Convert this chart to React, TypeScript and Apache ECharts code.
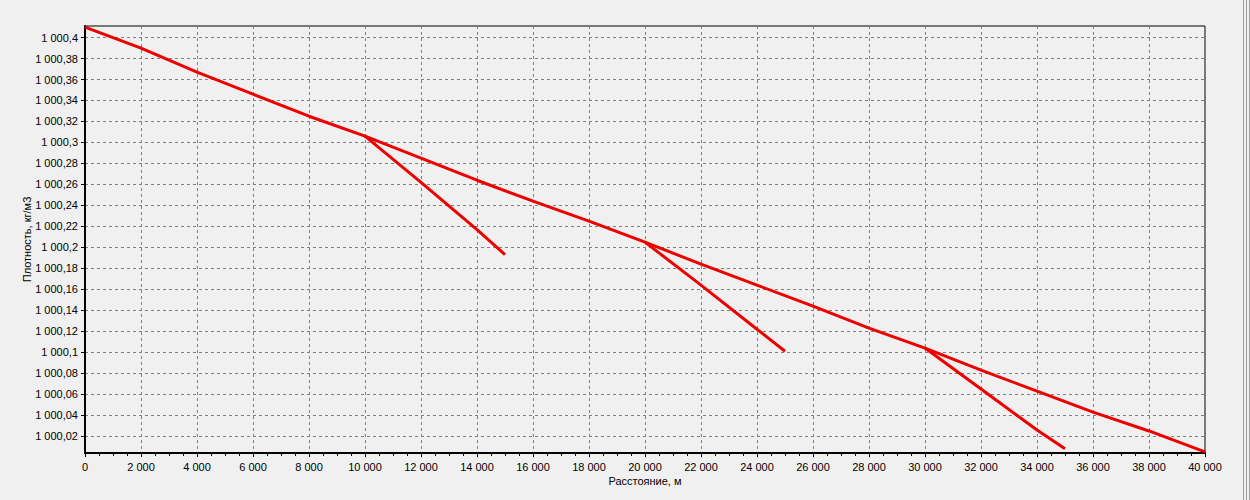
import React, { useEffect, useRef } from "react";
import * as echarts from "echarts";

// Main line (distance, m / density, kg/m3)
const mainDistance = [0, 2000, 4000, 6000, 8000, 10000, 12000, 14000, 16000, 18000, 20000, 22000, 24000, 26000, 28000, 30000, 32000, 34000, 36000, 38000, 40000];
const mainDensity = [1000.41, 1000.39, 1000.367, 1000.346, 1000.325, 1000.306, 1000.285, 1000.264, 1000.244, 1000.225, 1000.205, 1000.184, 1000.164, 1000.144, 1000.123, 1000.104, 1000.083, 1000.063, 1000.043, 1000.025, 1000.005];

// Branches
const branch1Distance = [10000, 12000, 14000, 15000];
const branch1Density = [1000.306, 1000.262, 1000.217, 1000.193];
const branch2Distance = [20000, 22000, 24000, 25000];
const branch2Density = [1000.205, 1000.164, 1000.122, 1000.101];
const branch3Distance = [30000, 32000, 34000, 35000];
const branch3Density = [1000.104, 1000.065, 1000.026, 1000.008];

// Tick values on the density axis
const yTickValues = [1000.02, 1000.04, 1000.06, 1000.08, 1000.1, 1000.12, 1000.14, 1000.16, 1000.18, 1000.2, 1000.22, 1000.24, 1000.26, 1000.28, 1000.3, 1000.32, 1000.34, 1000.36, 1000.38, 1000.4];

const xAxisName = "Расстояние, м";
const yAxisName = "Плотность, кг/м3";

function groupThousands(intPart: string): string {
  return intPart.replace(/\B(?=(\d{3})+(?!\d))/g, " ");
}

function fmtY(v: number): string {
  let s = v.toFixed(2);
  if (s.indexOf(".") >= 0) s = s.replace(/0+$/, "").replace(/\.$/, "");
  const [i, d] = s.split(".");
  return groupThousands(i) + (d ? "," + d : "");
}

function fmtX(v: number): string {
  return groupThousands(String(Math.round(v)));
}

function pairs(xs: number[], ys: number[]) {
  return xs.map((x, i) => [x, ys[i]]);
}

export default function App() {
  const ref = useRef<HTMLDivElement>(null);
  useEffect(() => {
    if (!ref.current) return;
    const chart = echarts.init(ref.current, null, { renderer: "svg" });
    const font = "Liberation Sans, Arial, sans-serif";
    const lineStyle = { color: "#ee0000", width: 3 };
    const mkSeries = (xs: number[], ys: number[]) => ({
      type: "line",
      data: pairs(xs, ys),
      showSymbol: false,
      symbol: "none",
      lineStyle,
      itemStyle: { color: "#ee0000" },
      z: 5,
    });
    chart.setOption({
      animation: false,
      backgroundColor: "#f0f0f0",
      textStyle: { fontFamily: font },
      grid: {
        left: 85,
        right: 45,
        top: 26,
        bottom: 47,
        show: true,
        borderColor: "#000",
        borderWidth: 1,
        backgroundColor: "transparent",
      },
      xAxis: {
        type: "value",
        min: 0,
        max: 40000,
        interval: 2000,
        name: xAxisName,
        nameLocation: "middle",
        nameGap: 22,
        nameMoveOverlap: false,
        nameTextStyle: { color: "#000", fontSize: 11, fontFamily: font },
        axisLine: { show: true, lineStyle: { color: "#000", width: 2 } },
        axisTick: { show: true, length: 4, lineStyle: { color: "#000" } },
        minorTick: { show: true, splitNumber: 4, length: 3, lineStyle: { color: "#000" } },
        axisLabel: { color: "#000", fontSize: 11, margin: 8, formatter: fmtX, showMinLabel: true, showMaxLabel: true },
        splitLine: { show: true, lineStyle: { color: "#808080", type: [3, 3], width: 1 } },
      },
      yAxis: {
        type: "value",
        min: 1000.004,
        max: 1000.411,
        name: yAxisName,
        nameLocation: "middle",
        nameGap: 53,
        nameMoveOverlap: false,
        nameTextStyle: { color: "#000", fontSize: 11, fontFamily: font },
        axisLine: { show: true, lineStyle: { color: "#000", width: 2 } },
        axisTick: { show: true, length: 4, customValues: yTickValues, lineStyle: { color: "#000" } },
        axisLabel: { color: "#000", fontSize: 11, margin: 7, customValues: yTickValues, formatter: fmtY },
        splitLine: { show: true, lineStyle: { color: "#808080", type: [3, 3], width: 1 } },
      },
      graphic: [
        { type: "line", shape: { x1: 1243.5, y1: 0, x2: 1243.5, y2: 500 }, style: { stroke: "#a0a0a0", lineWidth: 1 } },
        { type: "line", shape: { x1: 1246.5, y1: 0, x2: 1246.5, y2: 500 }, style: { stroke: "#a0a0a0", lineWidth: 1 } },
        { type: "line", shape: { x1: 1249.5, y1: 0, x2: 1249.5, y2: 500 }, style: { stroke: "#a0a0a0", lineWidth: 1 } },
      ],
      series: [
        mkSeries(mainDistance, mainDensity),
        mkSeries(branch1Distance, branch1Density),
        mkSeries(branch2Distance, branch2Density),
        mkSeries(branch3Distance, branch3Density),
      ],
    });
    return () => chart.dispose();
  }, []);
  return (
    <div
      ref={ref}
      style={{ position: "fixed", left: 0, top: 0, width: 1250, height: 500, background: "#f0f0f0" }}
    />
  );
}
